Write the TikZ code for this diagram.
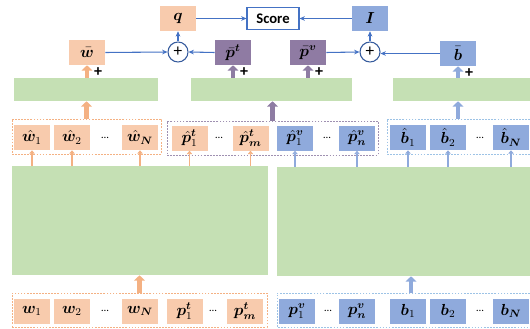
\documentclass[tikz,border=0pt]{standalone}
\usepackage{amsmath,bm}
\usepackage{fontspec}
\setmainfont{Carlito}
\usetikzlibrary{arrows.meta,calc}
\definecolor{org}{HTML}{F8CBAD}
\definecolor{orgd}{HTML}{F4B183}
\definecolor{blu}{HTML}{8FAADC}
\definecolor{blud}{HTML}{9DC3E6}
\definecolor{pur}{HTML}{8F7BA3}
\definecolor{purd}{HTML}{8E7CA3}
\definecolor{grn}{HTML}{C5E0B4}
\definecolor{lnb}{HTML}{4472C4}
\tikzset{
  box/.style={minimum width=27pt, minimum height=18.75pt, inner sep=0pt, font=\fontsize{12}{14}\selectfont},
  ob/.style={box, fill=org},
  bb/.style={box, fill=blu},
  pb/.style={box, fill=pur},
  gbox/.style={fill=grn, inner sep=0pt},
  dts/.style={font=\fontsize{8}{9}\selectfont, inner sep=0pt},
  dsh/.style={dash pattern=on 1.3pt off 1pt, line width=0.6pt, inner sep=0pt},
  tarr/.style={draw=#1, line width=3.6pt, -{Triangle[length=4pt,width=8pt]}},
  narr/.style={draw=#1, line width=1.3pt, -{Triangle[length=2.5pt,width=4pt]}},
  bl/.style={draw=lnb, line width=0.8pt, -{Stealth[length=4pt,width=3.5pt]}},
  plusl/.style={font=\bfseries\fontsize{12}{12}\selectfont, inner sep=0pt},
  circ/.style={circle, draw=lnb!80!black, line width=0.8pt, fill=white, minimum size=15pt, inner sep=0pt, font=\fontsize{13}{13}\selectfont}
}
\begin{document}
\begin{tikzpicture}[x=0.75pt,y=-0.75pt]
\useasboundingbox (0,0) rectangle (530,328);
% top row
\node[ob] (q) at (178,18.5) {$\bm{q}$};
\node[draw=lnb, line width=0.8pt, fill=white, minimum width=39pt, minimum height=16.5pt, inner sep=0pt, font=\bfseries\fontsize{11}{13}\selectfont] (sc) at (273,18.5) {Score};
\node[bb] (I) at (370,18.5) {$\bm{I}$};
% second row
\node[ob] (wbar) at (87,52.5) {$\bar{\bm{w}}$};
\node[circ] (c1) at (178,52) {+};
\node[pb] (pbt) at (233,52.5) {$\bar{\bm{p}}^{\bm{t}}$};
\node[pb] (pbv) at (308,52.5) {$\bar{\bm{p}}^{\bm{v}}$};
\node[circ] (c2) at (370,52) {+};
\node[bb] (bbar) at (458,53.5) {$\bar{\bm{b}}$};
% green row 1
\node[gbox, minimum width=108pt, minimum height=17.25pt] (g1) at (86,89.5) {};
\node[gbox, minimum width=120.75pt, minimum height=17.25pt] (g2) at (271.5,89.5) {};
\node[gbox, minimum width=102.75pt, minimum height=17.25pt] (g3) at (461.5,89.5) {};
% dashed boxes row hat
\node[dsh, draw=orgd, minimum width=111.75pt, minimum height=26.25pt] (od) at (86.5,136.5) {};
\node[dsh, draw=purd!85, minimum width=158.25pt, minimum height=25.5pt] (pd) at (272.5,138) {};
\draw[dsh, draw=blud] (533,119) -- (387,119) -- (387,154) -- (533,154);
\coordinate (bdt) at (458,119);
% hat boxes
\node[ob] (hw1) at (32,137.5) {$\hat{\bm{w}}_1$};
\node[ob] (hw2) at (72,137.5) {$\hat{\bm{w}}_2$};
\node[dts] (hd1) at (105,137.5) {…};
\node[ob] (hwN) at (140,137.5) {$\hat{\bm{w}}_{\bm{N}}$};
\node[ob] (hpt1) at (189.5,138) {$\hat{\bm{p}}_1^{\bm{t}}$};
\node[dts] (hd2) at (219,138) {…};
\node[ob] (hptm) at (250.5,138) {$\hat{\bm{p}}_{\bm{m}}^{\bm{t}}$};
\node[bb] (hpv1) at (295,138) {$\hat{\bm{p}}_1^{\bm{v}}$};
\node[dts] (hd3) at (327,138) {…};
\node[bb] (hpvn) at (357,138) {$\hat{\bm{p}}_{\bm{n}}^{\bm{v}}$};
\node[bb] (hb1) at (408,137.5) {$\hat{\bm{b}}_1$};
\node[bb] (hb2) at (448,137.5) {$\hat{\bm{b}}_2$};
\node[dts] (hd4) at (480,137.5) {…};
\node[bb] (hbN) at (511,137.5) {$\hat{\bm{b}}_{\bm{N}}$};
% big green boxes
\node[gbox, minimum width=192pt, minimum height=81.75pt] (G1) at (140,220.5) {};
\node[gbox, minimum width=189.75pt, minimum height=81.75pt] (G2) at (403.5,221.5) {};
% bottom dashed boxes
\node[dsh, draw=orgd, minimum width=191.25pt, minimum height=25.5pt] (obd) at (139.5,310) {};
\draw[dsh, draw=blud] (533,293) -- (277,293) -- (277,327) -- (533,327);
\coordinate (bbt) at (411,293);
% bottom boxes
\node[ob] (w1) at (32,311) {$\bm{w}_1$};
\node[ob] (w2) at (72,311) {$\bm{w}_2$};
\node[dts] (d1) at (105,311) {…};
\node[ob] (wN) at (140,311) {$\bm{w}_{\bm{N}}$};
\node[ob] (pt1) at (184.5,311) {$\bm{p}_1^{\bm{t}}$};
\node[dts] (d2) at (213,311) {…};
\node[ob] (ptm) at (245,311) {$\bm{p}_{\bm{m}}^{\bm{t}}$};
\node[bb] (pv1) at (297,311) {$\bm{p}_1^{\bm{v}}$};
\node[dts] (d3) at (328,311) {…};
\node[bb] (pvn) at (357,311) {$\bm{p}_{\bm{n}}^{\bm{v}}$};
\node[bb] (b1) at (408,311) {$\bm{b}_1$};
\node[bb] (b2) at (448,311) {$\bm{b}_2$};
\node[dts] (d4) at (480,311) {…};
\node[bb] (bN) at (511,311) {$\bm{b}_{\bm{N}}$};
% thick arrows bottom
\draw[tarr=orgd] (obd.north) -- (obd.north |- G1.south);
\draw[tarr=blu] (bbt) -- (bbt |- G2.south);
% thin arrows G -> hat
\foreach \n in {hw1,hw2,hwN,hpt1,hptm}{\draw[narr=orgd] (\n.south |- G1.north) -- (\n.south);}
\foreach \n in {hpv1,hpvn,hb1,hb2,hbN}{\draw[narr=blu] (\n.south |- G2.north) -- (\n.south);}
% thick arrows hat -> green row 1
\draw[tarr=orgd] (od.north) -- (od.north |- g1.south);
\draw[tarr=purd] (pd.north) -- (pd.north |- g2.south);
\draw[tarr=blu] (bdt) -- (bdt |- g3.south);
% thick arrows green row 1 -> bar boxes
\draw[tarr=orgd] (wbar.south |- g1.north) -- (wbar.south);
\draw[tarr=purd] (pbt.south |- g2.north) -- (pbt.south);
\draw[tarr=purd] (pbv.south |- g2.north) -- (pbv.south);
\draw[tarr=blu] (bbar.south |- g3.north) -- (bbar.south);
% plus labels
\node[plusl] (pl1) at ($(wbar.south)+(11,7)$) {+};
\node[plusl] (pl2) at ($(pbt.south)+(11,7)$) {+};
\node[plusl] (pl3) at ($(pbv.south)+(11,7)$) {+};
\node[plusl] (pl4) at ($(bbar.south)+(11,7)$) {+};
% blue lines
\draw[bl] (wbar.east) -- (c1.west);
\draw[bl] (pbt.west) -- (c1.east);
\draw[bl] (c1.north) -- (q.south);
\draw[bl] (q.east) -- (sc.west);
\draw[bl] (I.west) -- (sc.east);
\draw[bl] (pbv.east) -- (c2.west);
\draw[bl] (bbar.west) -- (bbar.west -| c2.east);
\draw[bl] (c2.north) -- (I.south);
\end{tikzpicture}
\end{document}
